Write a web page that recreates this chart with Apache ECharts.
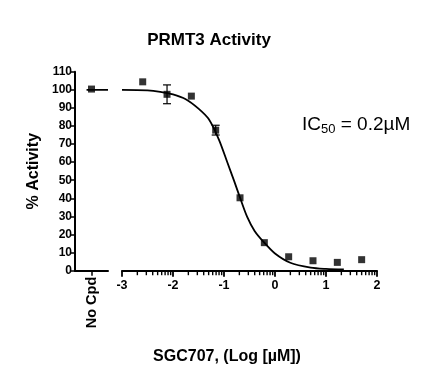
<!DOCTYPE html>
<html>
<head>
<meta charset="utf-8">
<script src="https://cdn.jsdelivr.net/npm/echarts@6/dist/echarts.min.js"></script>
<style>html,body{margin:0;padding:0;background:#fff;}#c{width:437px;height:381px;}</style>
</head>
<body>
<div id="c"></div>
<script>
// ---- data ----
const logConc = [-2.594, -2.117, -1.640, -1.163, -0.686, -0.209, 0.268, 0.745, 1.222, 1.699];
const activity = [104.4, 97.5, 96.5, 77.7, 40.3, 15.5, 7.7, 5.5, 4.6, 6.1];
const activityErr = [0, 5.2, 0, 2.7, 0, 0, 0, 0, 0, 0];
const noCpdValue = 100.4;
// fitted curve
const curveX = [-3, -2.5, -2.25, -2, -1.75, -1.5, -1.3, -1.1, -0.93, -0.8, -0.7, -0.55, -0.4, -0.22, 0, 0.3, 0.7, 1.0, 1.35];
const curveY = [100, 99.7, 98.9, 97.5, 94.8, 89.6, 83.8, 72.5, 59.5, 49.5, 41.5, 30, 22, 15.8, 9.5, 4.4, 1.7, 1.0, 0.7];
const noCpdCurveX = [0.7, 2];
const noCpdCurveY = [100, 100];
const xTicks = [-3, -2, -1, 0, 1, 2];
const yTicks = [0, 10, 20, 30, 40, 50, 60, 70, 80, 90, 100, 110];
const noCpdLabel = 'No Cpd';
const titleText = 'PRMT3 Activity';
const xTitle = 'SGC707, (Log [\u00b5M])';
const yTitle = '% Activity';

// log-decade minor tick positions (2..9 within each decade)
const minorTicks = [];
for (let d = -3; d < 2; d++) for (let k = 2; k <= 9; k++) minorTicks.push(d + Math.log10(k));

const FONT = '"Liberation Sans", Arial, sans-serif';
const chart = echarts.init(document.getElementById('c'), null, {renderer: 'canvas'});

const gridTop = 71.7, gridH = 199;
const option = {
  animation: false,
  backgroundColor: '#fff',
  grid: [
    {left: 75, top: gridTop, width: 33, height: gridH},
    {left: 122, top: gridTop, right: 60, height: gridH}
  ],
  xAxis: [
    {gridIndex: 0, type: 'value', min: 0, max: 2,
     axisLine: {show: true, onZero: false, lineStyle: {color: '#000', width: 2}},
     axisTick: {show: true, customValues: [1], length: 5, lineStyle: {color: '#000', width: 1.5}},
     axisLabel: {customValues: [1], formatter: () => noCpdLabel, rotate: 90, color: '#000', fontFamily: FONT, fontWeight: 'bold', fontSize: 14.5, margin: 6},
     splitLine: {show: false}},
    {gridIndex: 1, type: 'value', min: -3, max: 2, interval: 1,
     axisLine: {show: true, onZero: false, lineStyle: {color: '#000', width: 2}},
     axisTick: {show: true, customValues: xTicks, length: 6, lineStyle: {color: '#000', width: 1.8}},
     axisLabel: {customValues: xTicks, color: '#000', fontFamily: FONT, fontWeight: 'bold', fontSize: 12.5, margin: 8},
     splitLine: {show: false}}
  ],
  yAxis: [
    {gridIndex: 0, type: 'value', min: 0, max: 110, interval: 10,
     axisLine: {show: true, lineStyle: {color: '#000', width: 2}},
     axisTick: {show: true, customValues: yTicks, length: 4, lineStyle: {color: '#000', width: 1.5}},
     axisLabel: {customValues: yTicks, color: '#000', fontFamily: FONT, fontWeight: 'bold', fontSize: 12, margin: 3},
     splitLine: {show: false},
     name: yTitle, nameLocation: 'middle', nameGap: 33, nameRotate: 90,
     nameTextStyle: {color: '#000', fontFamily: FONT, fontWeight: 'bold', fontSize: 16}},
    {gridIndex: 1, type: 'value', min: 0, max: 110, interval: 10, show: false}
  ],
  graphic: [
    {type: 'text', x: 209, y: 40.7, style: {text: titleText, textAlign: 'center', textVerticalAlign: 'middle', fill: '#000', font: 'bold 17px ' + FONT}},
    {type: 'text', x: 227, y: 356.5, style: {text: xTitle, textAlign: 'center', textVerticalAlign: 'middle', fill: '#000', font: 'bold 16px ' + FONT}},
    {type: 'text', x: 302, y: 125, style: {
      text: '{a|IC}{s|50}{a| = 0.2\u00b5M}', textAlign: 'left', textVerticalAlign: 'middle',
      rich: {a: {fontSize: 19, fontFamily: FONT, fill: '#000'}, s: {fontSize: 13, fontFamily: FONT, fill: '#000', padding: [9, 0, 0, 0]}}}}
  ],
  series: [
    {type: 'line', xAxisIndex: 1, yAxisIndex: 1, data: curveX.map((x, i) => [x, curveY[i]]),
     smooth: 0.3, showSymbol: false, symbol: 'none', lineStyle: {color: '#000', width: 1.8}, silent: true, z: 2},
    {type: 'line', xAxisIndex: 0, yAxisIndex: 0, data: noCpdCurveX.map((x, i) => [x, noCpdCurveY[i]]),
     showSymbol: false, symbol: 'none', lineStyle: {color: '#000', width: 1.8}, silent: true, z: 2},
    {type: 'scatter', xAxisIndex: 1, yAxisIndex: 1, data: logConc.map((x, i) => [x, activity[i]]),
     symbol: 'rect', symbolSize: 7, itemStyle: {color: '#000'}, z: 3},
    {type: 'scatter', xAxisIndex: 0, yAxisIndex: 0, data: [[1, noCpdValue]],
     symbol: 'rect', symbolSize: 7, itemStyle: {color: '#000'}, z: 3},
    // minor (log) ticks below the main x axis
    {type: 'custom', xAxisIndex: 1, yAxisIndex: 1, z: 5, silent: true, clip: false,
     data: minorTicks.map(v => [v, 0]),
     renderItem: function (params, api) {
       const p = api.coord([api.value(0), 0]);
       return {type: 'line', shape: {x1: p[0], y1: p[1], x2: p[0], y2: p[1] + 4.5}, style: {stroke: '#000', lineWidth: 1.4}};
     }},
    {type: 'custom', xAxisIndex: 1, yAxisIndex: 1, z: 4,
     data: logConc.map((x, i) => [x, activity[i] - activityErr[i], activity[i] + activityErr[i]]).filter((d, i) => activityErr[i] > 0),
     renderItem: function (params, api) {
       const lo = api.coord([api.value(0), api.value(1)]);
       const hi = api.coord([api.value(0), api.value(2)]);
       const w = 4;
       const st = {stroke: '#000', lineWidth: 1.2};
       return {type: 'group', children: [
         {type: 'line', shape: {x1: lo[0], y1: lo[1], x2: hi[0], y2: hi[1]}, style: st},
         {type: 'line', shape: {x1: lo[0] - w, y1: lo[1], x2: lo[0] + w, y2: lo[1]}, style: st},
         {type: 'line', shape: {x1: hi[0] - w, y1: hi[1], x2: hi[0] + w, y2: hi[1]}, style: st}
       ]};
     }}
  ]
};
chart.setOption(option);
</script>
</body>
</html>
